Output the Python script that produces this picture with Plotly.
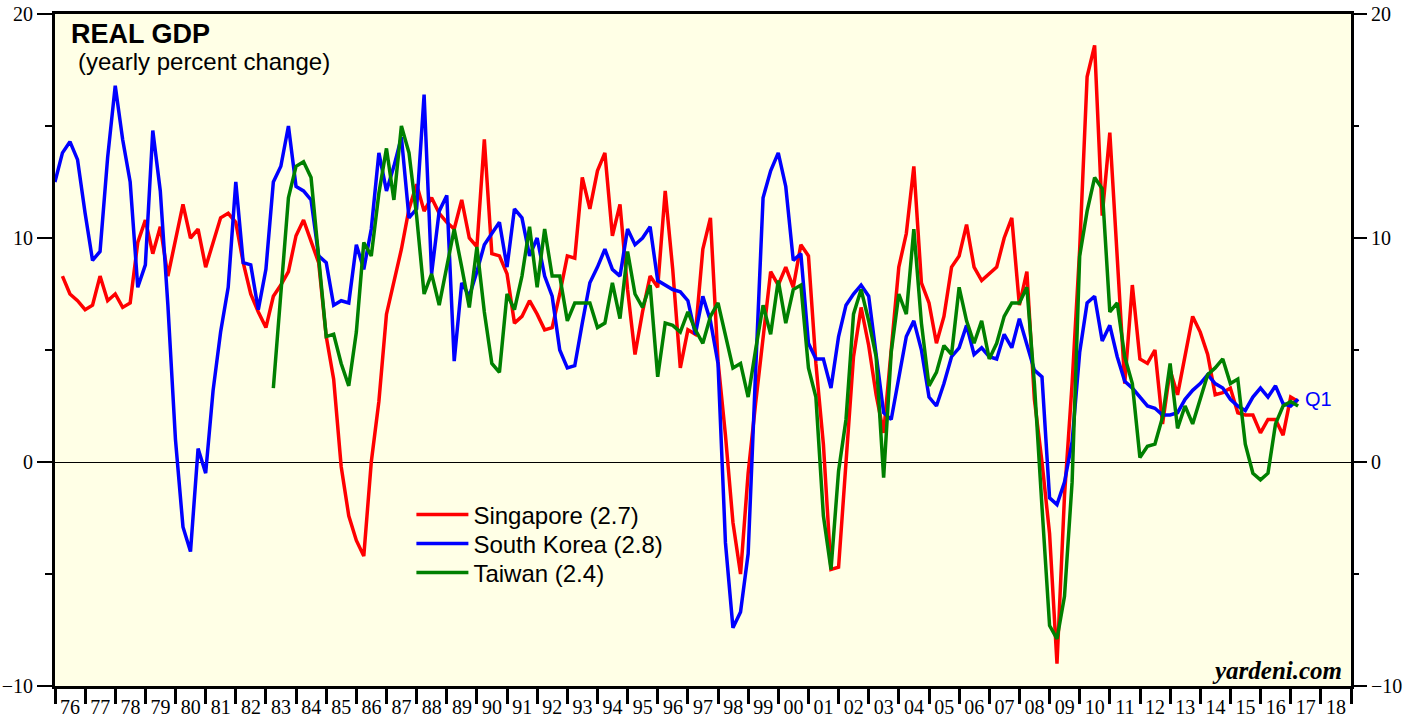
import plotly.graph_objects as go

# ---------------- data (yearly % change, quarterly) ----------------
SERIES_NAMES = ["Singapore (2.7)", "South Korea (2.8)", "Taiwan (2.4)"]
SERIES_COLORS = ["#FF0000", "#0000FF", "#008000"]

SG_START = (1976, 1)
KR_START = (1975, 4)
TW_START = (1983, 1)

singapore = [
    8.3, 7.5, 7.2, 6.8,
    7.0, 8.3, 7.2, 7.5,
    6.9, 7.1, 9.8, 10.8,
    9.3, 10.5, 8.3, 9.9,
    11.5, 10.0, 10.4, 8.7,
    9.8, 10.9, 11.1, 10.7,
    8.9, 7.5, 6.7, 6.0,
    7.4, 7.9, 8.5, 10.1,
    10.8, 9.9, 8.9, 5.6,
    3.7, -0.2, -2.4, -3.5,
    -4.2, 0.0, 2.7, 6.6,
    8.0, 9.5, 11.3, 12.4,
    11.2, 11.8, 11.1, 10.7,
    10.4, 11.7, 10.0, 9.6,
    14.4, 9.3, 9.2, 8.4,
    6.2, 6.5, 7.2, 6.6,
    5.9, 6.0, 7.5, 9.2,
    9.1, 12.7, 11.3, 13.0,
    13.8, 10.1, 11.5, 7.7,
    4.8, 6.7, 8.3, 7.8,
    12.1, 8.6, 4.2, 5.9,
    5.7, 9.5, 10.9, 4.5,
    1.2, -2.7, -5.0, -0.5,
    2.6, 5.6, 8.5, 7.9,
    8.7, 7.8, 9.7, 9.2,
    4.4, 0.8, -4.8, -4.7,
    0.0, 4.7, 6.9, 5.2,
    3.0, 1.3, 5.0, 8.7,
    10.2, 13.2, 8.0, 7.1,
    5.3, 6.5, 8.7, 9.2,
    10.6, 8.7, 8.1, 8.4,
    8.7, 10.0, 10.9, 7.0,
    8.5, 2.8, 0.0, -3.2,
    -9.0, -1.5, 3.5, 9.5,
    17.2, 18.6, 11.0, 14.7,
    9.0, 3.5, 7.9, 4.6,
    4.4, 5.0, 1.7, 4.1,
    3.0, 4.7, 6.5, 5.8,
    4.8, 3.0, 3.1, 3.3,
    2.2, 2.1, 2.1, 1.3,
    1.9, 1.9, 1.2, 2.9,
    2.7,
]

south_korea = [
    12.5,
    13.8, 14.3, 13.5, 11.1,
    9.0, 9.4, 13.6, 16.8,
    14.4, 12.5, 7.8, 8.8,
    14.8, 12.1, 7.0, 1.0,
    -2.9, -4.0, 0.6, -0.5,
    3.2, 5.8, 7.8, 12.5,
    8.9, 8.8, 6.8, 8.6,
    12.5, 13.2, 15.0, 12.3,
    12.1, 11.7, 9.2, 8.9,
    7.0, 7.2, 7.1, 9.7,
    8.6, 10.4, 13.8, 12.1,
    13.2, 14.5, 10.9, 11.3,
    16.4, 8.4, 11.2, 11.9,
    4.5, 8.0, 7.4, 8.5,
    9.7, 10.2, 10.7, 8.7,
    11.3, 10.9, 9.2, 10.0,
    8.3, 7.4, 5.0, 4.2,
    4.3, 6.2, 8.0, 8.7,
    9.5, 8.6, 8.3, 10.4,
    9.7, 10.0, 10.5, 8.1,
    7.9, 7.7, 7.6, 7.2,
    5.7, 7.4, 6.3, 4.4,
    -3.6, -7.4, -6.7, -4.1,
    4.0, 11.8, 13.0, 13.8,
    12.3, 9.0, 9.3, 5.3,
    4.6, 4.6, 3.3, 5.6,
    7.0, 7.5, 7.9, 7.4,
    4.8, 2.2, 1.9, 3.7,
    5.6, 6.3, 5.0, 2.9,
    2.5, 3.5, 4.7, 5.1,
    6.1, 4.8, 5.1, 4.7,
    4.6, 5.7, 5.1, 6.4,
    5.2, 4.1, 3.8, -1.6,
    -1.9, -0.9, 0.9, 4.9,
    7.1, 7.4, 5.4, 6.1,
    4.7, 3.6, 3.3, 2.9,
    2.5, 2.4, 2.1, 2.1,
    2.2, 2.8, 3.2, 3.5,
    3.9, 3.5, 3.3, 2.8,
    2.5, 2.3, 2.9, 3.3,
    2.9, 3.4, 2.6, 2.5,
    2.8,
]

taiwan = [
    3.3, 7.5, 11.8, 13.2,
    13.4, 12.7, 9.2, 5.6,
    5.7, 4.4, 3.4, 5.8,
    9.8, 9.2, 12.0, 14.0,
    11.7, 15.0, 13.8, 11.0,
    7.5, 8.4, 7.0, 8.7,
    10.4, 8.7, 6.9, 9.6,
    6.7, 4.4, 4.0, 7.5,
    6.8, 8.3, 10.5, 7.8,
    10.4, 8.3, 8.3, 6.3,
    7.1, 7.1, 7.1, 6.0,
    6.2, 8.0, 6.4, 9.4,
    7.5, 6.9, 7.9, 3.8,
    6.2, 6.1, 5.8, 6.7,
    5.9, 5.3, 6.5, 7.1,
    5.6, 4.2, 4.4, 2.9,
    5.0, 7.0, 5.7, 8.1,
    6.2, 7.7, 7.9, 4.2,
    2.9, -2.4, -4.8, -0.4,
    1.9, 6.6, 7.7, 6.3,
    4.7, -0.7, 4.9, 7.5,
    6.6, 10.4, 6.2, 3.4,
    4.0, 5.2, 4.8, 7.8,
    6.3, 5.3, 6.3, 4.6,
    5.3, 6.5, 7.1, 7.1,
    7.8, 3.5, -2.0, -7.3,
    -7.9, -6.0, -0.9, 9.2,
    11.2, 12.7, 12.2, 6.7,
    7.1, 4.7, 3.5, 0.2,
    0.7, 0.8, 2.0, 4.4,
    1.5, 2.5, 1.7, 2.8,
    3.9, 4.2, 4.6, 3.5,
    3.7, 0.8, -0.5, -0.8,
    -0.5, 1.7, 2.5, 2.7,
    2.5,
]

Y_TICKS = [-10, 0, 10, 20]


def quarter_dates(start, n):
    """Quarter-end dates beginning at (year, quarter)."""
    month_end = {1: "03-31", 2: "06-30", 3: "09-30", 4: "12-31"}
    y, q = start
    out = []
    for _ in range(n):
        out.append(f"{y}-{month_end[q]}")
        q += 1
        if q == 5:
            q = 1
            y += 1
    return out


series = [
    (singapore, SG_START),
    (south_korea, KR_START),
    (taiwan, TW_START),
]
LEGEND_IDS = ["legend", "legend2", "legend3"]

fig = go.Figure()
for (vals, start), name, color, lg in zip(series, SERIES_NAMES, SERIES_COLORS, LEGEND_IDS):
    fig.add_trace(go.Scatter(
        x=quarter_dates(start, len(vals)), y=vals, name=name, mode="lines",
        line=dict(color=color, width=3.5), hoverinfo="skip", legend=lg,
    ))

# dummy trace to register the right-hand y axis
fig.add_trace(go.Scatter(x=[], y=[], yaxis="y2", showlegend=False, hoverinfo="skip"))

kr_dates = quarter_dates(KR_START, len(south_korea))

SANS = "Liberation Sans, Arial, Helvetica, sans-serif"
SERIF = "Liberation Serif, Times New Roman, serif"


def legend_box(ypos):
    return dict(
        x=0.2750, y=ypos, xanchor="left", yanchor="middle",
        bgcolor="rgba(0,0,0,0)", borderwidth=0,
        font=dict(family=SANS, size=24, color="black"),
        itemwidth=52,
    )


y_common = dict(
    range=[-10, 20], tickvals=Y_TICKS, ticks="outside", ticklen=15,
    tickwidth=2, tickcolor="black", showgrid=False, automargin=False,
    ticklabeloverflow="allow",
    tickfont=dict(family=SERIF, size=20, color="black"),
    minor=dict(dtick=5, tick0=0, ticks="outside", ticklen=7,
               tickwidth=2, tickcolor="black", showgrid=False),
)

fig.update_layout(
    width=1419, height=719,
    margin=dict(l=55, r=68, t=14, b=33, autoexpand=False),
    paper_bgcolor="white",
    plot_bgcolor="#FFFFE6",
    showlegend=True,
    legend=legend_box(0.2545),
    legend2=legend_box(0.2113),
    legend3=legend_box(0.1682),
    xaxis=dict(
        type="date", range=["1976-01-01", "2019-01-01"],
        tick0="1976-01-01", dtick="M12", tickformat="%y",
        ticklabelmode="period", ticks="outside", ticklen=15, tickwidth=3,
        tickcolor="black", showline=True, linewidth=3, linecolor="black",
        mirror=True, showgrid=False, zeroline=False, automargin=False,
        ticklabeloverflow="allow",
        tickfont=dict(family=SERIF, size=20, color="black"),
        ticklabelstandoff=-14,
    ),
    yaxis=dict(
        showline=True, linewidth=3, linecolor="black", mirror=True,
        zeroline=True, zerolinecolor="black", zerolinewidth=1,
        **y_common,
    ),
    yaxis2=dict(
        overlaying="y", side="right", anchor="x",
        showline=False, zeroline=False,
        **y_common,
    ),
    annotations=[
        dict(text="<b>REAL GDP</b>", xref="paper", yref="paper",
             x=0.0105, y=0.995, xanchor="left", yanchor="top",
             showarrow=False, font=dict(family=SANS, size=27, color="black")),
        dict(text="(yearly percent change)", xref="paper", yref="paper",
             x=0.0165, y=0.952, xanchor="left", yanchor="top",
             showarrow=False, font=dict(family=SANS, size=24, color="black")),
        dict(text="<b><i>yardeni.com</i></b>", xref="paper", yref="paper",
             x=0.9948, y=0.0, xanchor="right", yanchor="bottom",
             showarrow=False, font=dict(family=SERIF, size=25, color="black")),
        dict(text="Q1", xref="x", yref="y", x=kr_dates[-1], y=south_korea[-1],
             xanchor="left", yanchor="middle", xshift=5, showarrow=False,
             font=dict(family=SANS, size=20, color="#0000FF")),
    ],
)

fig.write_html(
    "out.html",
    config={"displayModeBar": False},
    post_script="document.body.style.margin='0';document.body.style.padding='0';",
)
